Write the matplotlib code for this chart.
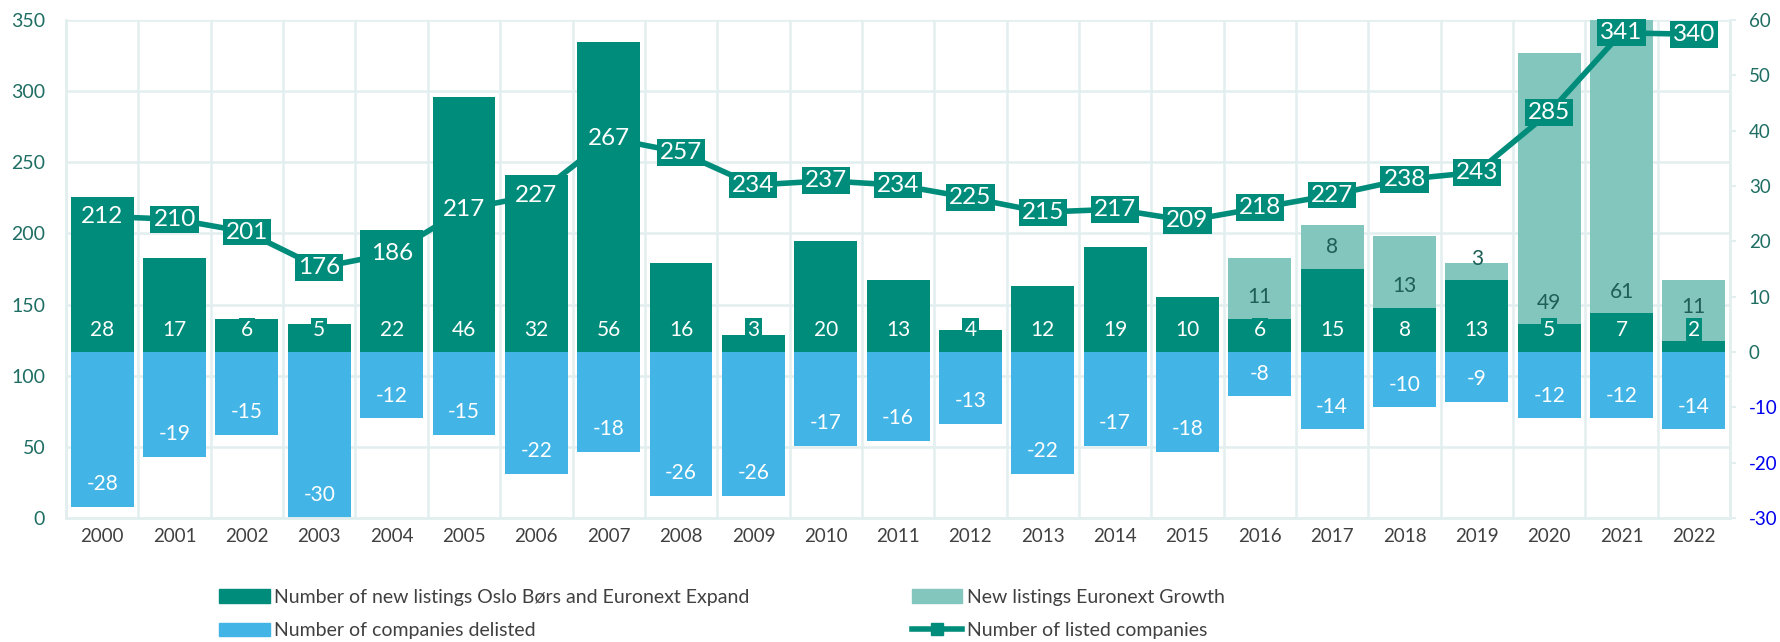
import matplotlib.pyplot as plt
from matplotlib.patches import Patch
from matplotlib.lines import Line2D

plt.rcParams['font.family'] = ['Lato', 'DejaVu Sans']
plt.rcParams['axes.unicode_minus'] = False

years = [str(y) for y in range(2000, 2023)]
new_main = [28, 17, 6, 5, 22, 46, 32, 56, 16, 3, 20, 13, 4, 12, 19, 10, 6, 15, 8, 13, 5, 7, 2]
new_growth = [0] * 16 + [11, 8, 13, 3, 49, 61, 11]
delisted = [-28, -19, -15, -30, -12, -15, -22, -18, -26, -26, -17, -16, -13, -22, -17, -18,
            -8, -14, -10, -9, -12, -12, -14]
listed = [212, 210, 201, 176, 186, 217, 227, 267, 257, 234, 237, 234, 225, 215, 217, 209,
          218, 227, 238, 243, 285, 341, 340]

left_ticks = list(range(0, 351, 50))
right_ticks = list(range(-30, 61, 10))

DARK = "#008C7A"
LIGHT = "#82C6BD"
BLUE = "#42B4E6"
GRID = "#E3EFEF"
TICKC = "#1F6E63"

fig = plt.figure(figsize=(17.81, 6.42), dpi=100)
ax = fig.add_axes([0.0371, 0.1931, 0.9343, 0.7757])
ax2 = ax.twinx()
ax.set_zorder(2)
ax.patch.set_visible(False)
ax2.set_zorder(1)

x = list(range(len(years)))
w = 0.87

# grid lines behind bars (at left-axis ticks)
lo, hi = right_ticks[0], right_ticks[-1]
for v in left_ticks:
    ax2.axhline(lo + v * (hi - lo) / 350, color=GRID, lw=1.8, zorder=0)
for i in range(len(years) + 1):
    ax2.axvline(i - 0.5, color=GRID, lw=1.8, zorder=0)

ax2.bar(x, new_main, w, color=DARK, zorder=2)
ax2.bar(x, new_growth, w, bottom=new_main, color=LIGHT, zorder=2)
ax2.bar(x, delisted, w, color=BLUE, zorder=2)

for i in x:
    ax2.text(i, 4.0, str(new_main[i]), ha='center', va='center', color='white', fontsize=15,
             zorder=4, bbox=dict(boxstyle='square,pad=0.1', fc=DARK, ec='none'))
    if new_growth[i]:
        base = new_main[i]
        yy = base + 3.9 + (2.3 if base < 4 else 0)
        ax2.text(i, yy, str(new_growth[i]), ha='center', va='center', color='#1E5F57',
                 fontsize=15, zorder=3)
    ax2.text(i, delisted[i] + 4.1, str(delisted[i]), ha='center', va='center', color='white',
             fontsize=15, zorder=4)

ax.plot(x, listed, color=DARK, lw=4, marker='s', markersize=8, zorder=3)
for i in x:
    ax.text(i, listed[i], str(listed[i]), ha='center', va='center', color='white', fontsize=17.5,
            zorder=4, bbox=dict(boxstyle='square,pad=0.12', fc=DARK, ec='none'))

ax.set_xlim(-0.5, len(years) - 0.5)
ax.set_ylim(0, 350)
ax2.set_ylim(lo, hi)
ax.set_yticks(left_ticks)
ax2.set_yticks(right_ticks)
ax.set_xticks(x)
ax.set_xticklabels(years)

ax.tick_params(axis='x', length=0, pad=7, labelsize=13.5, labelcolor='#404040')
ax.tick_params(axis='y', length=0, pad=15, labelsize=14, labelcolor=TICKC)
ax2.tick_params(axis='y', length=4.5, width=1.5, color=GRID, pad=9, labelsize=13.5,
                labelcolor=TICKC)
for t, v in zip(ax2.get_yticklabels(), right_ticks):
    if v < 0:
        t.set_color('#0000EE')

for a in (ax, ax2):
    for s in a.spines.values():
        s.set_color(GRID)
        s.set_linewidth(1.8)
    a.spines['top'].set_visible(False)

h1 = [Patch(color=DARK), Patch(color=BLUE)]
l1 = ['Number of new listings Oslo Børs and Euronext Expand', 'Number of companies delisted']
h2 = [Patch(color=LIGHT), Line2D([], [], color=DARK, lw=4, marker='s', markersize=9)]
l2 = ['New listings Euronext Growth', 'Number of listed companies']
kw = dict(loc='upper left', frameon=False, fontsize=14, labelspacing=0.85, handlelength=2.6,
          handletextpad=0.25, borderpad=0, borderaxespad=0, labelcolor='#404040')
leg1 = fig.legend(h1, l1, bbox_to_anchor=(0.123, 0.083), **kw)
leg2 = fig.legend(h2, l2, bbox_to_anchor=(0.512, 0.083), **kw)

fig.savefig('out.png', dpi=100)
